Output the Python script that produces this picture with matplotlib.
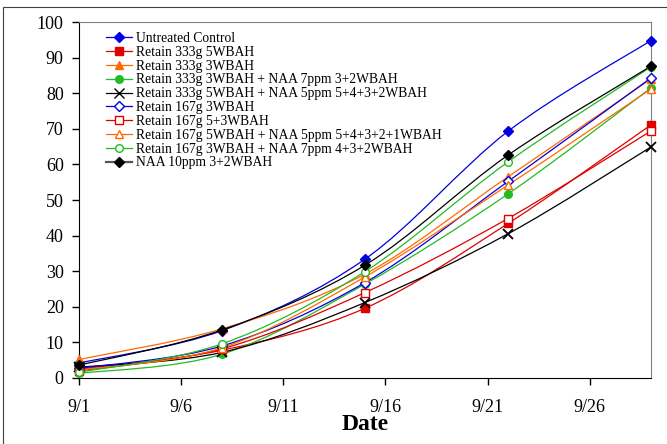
import numpy as np
import matplotlib.pyplot as plt
from matplotlib.path import Path
from matplotlib.patches import PathPatch, Rectangle
from matplotlib.lines import Line2D

# days after 9/1 on which the counts were taken
days = [0, 7, 14, 21, 28]
tick_days = [0, 5, 10, 15, 20, 25]
tick_labels = ['9/1', '9/6', '9/11', '9/16', '9/21', '9/26']

names = ['Untreated Control',
         'Retain 333g 5WBAH',
         'Retain 333g 3WBAH',
         'Retain 333g 3WBAH + NAA 7ppm 3+2WBAH',
         'Retain 333g 5WBAH + NAA 5ppm 5+4+3+2WBAH',
         'Retain 167g 3WBAH',
         'Retain 167g 5+3WBAH',
         'Retain 167g 5WBAH + NAA 5ppm 5+4+3+2+1WBAH',
         'Retain 167g 3WBAH + NAA 7ppm 4+3+2WBAH',
         'NAA 10ppm 3+2WBAH']

untreated = [4.2, 13.3, 33.4, 69.3, 94.8]
r333_5 = [2.5, 7.8, 19.6, 43.4, 71.1]
r333_3 = [5.2, 13.8, 29.2, 56.5, 84.0]
r333_3_naa7 = [1.3, 6.7, 26.4, 51.7, 81.5]
r333_5_naa5 = [3.0, 7.2, 21.2, 40.5, 64.9]
r167_3 = [2.7, 9.0, 26.8, 55.2, 84.3]
r167_53 = [2.0, 8.2, 24.0, 44.8, 69.4]
r167_5_naa5 = [2.2, 8.5, 28.4, 54.2, 81.2]
r167_3_naa7 = [1.6, 9.6, 29.9, 60.7, 87.4]
naa10 = [3.6, 13.5, 31.7, 62.6, 87.6]

series = [untreated, r333_5, r333_3, r333_3_naa7, r333_5_naa5,
          r167_3, r167_53, r167_5_naa5, r167_3_naa7, naa10]

blue, red, orange, green, black = '#0000e0', '#e00000', '#ff6a00', '#22bb22', '#000000'
styles = [  # colour, marker, filled
    (blue, 'D', True), (red, 's', True), (orange, '^', True), (green, 'o', True),
    (black, 'x', True), (blue, 'D', False), (red, 's', False), (orange, '^', False),
    (green, 'o', False), (black, 'D', True)]


def smooth_path(x, y):
    # excel-style smoothed line: bezier segments through the points
    p = np.column_stack([x, y]).astype(float)
    q = np.vstack([p[0], p, p[-1]])
    verts = [p[0]]
    codes = [Path.MOVETO]
    for i in range(len(p) - 1):
        c1 = q[i + 1] + (q[i + 2] - q[i]) / 6
        c2 = q[i + 2] - (q[i + 3] - q[i + 1]) / 6
        verts += [c1, c2, q[i + 2]]
        codes += [Path.CURVE4] * 3
    return Path(verts, codes)


plt.rcParams['font.family'] = 'Liberation Serif'
fig = plt.figure(figsize=(6.67, 4.44), dpi=100)
ax = fig.add_axes([79 / 667, 1 - 378 / 444, 572 / 667, 356 / 444])

handles = []
for vals, name, (col, mk, filled) in zip(series, names, styles):
    ax.add_patch(PathPatch(smooth_path(days, vals), fill=False, edgecolor=col, lw=0.9, zorder=2))
    ms = 5.5 if mk != 'x' else 6.5
    ax.plot(days, vals, linestyle='none', marker=mk, markersize=ms, color=col,
            markerfacecolor=col if filled else 'white', markeredgecolor=col,
            markeredgewidth=1.0 if mk != 'x' else 1.3, zorder=3, clip_on=False)
    handles.append(Line2D([], [], color=col if name != names[-1] else '#555555',
                          lw=0.9 if name != names[-1] else 1.6,
                          marker=mk, markersize=ms,
                          markerfacecolor=col if filled else 'white',
                          markeredgecolor=col))

ax.set_xlim(0, 28)
ax.set_ylim(0, 100)
ax.set_xticks(tick_days)
ax.set_xticklabels(tick_labels)
ax.set_yticks(range(0, 101, 10))
ax.tick_params(direction='out', length=5, width=1, labelsize=13, pad=6)
ax.tick_params(axis='x', pad=10)
for s in ['top', 'right']:
    ax.spines[s].set_color('#808080')
for s in ['left', 'bottom']:
    ax.spines[s].set_color('black')
ax.set_xlabel('Date', fontsize=17, fontweight='bold', labelpad=-1)

ax.legend(handles, names, loc='upper left', bbox_to_anchor=(106 / 667, 1 - 32 / 444),
          bbox_transform=fig.transFigure, frameon=False, fontsize=9.8,
          handlelength=1.9, handletextpad=0.3, labelspacing=0.06, borderpad=0,
          borderaxespad=0)

fig.patches.append(Rectangle((3 / 667, -0.1), 1.0, 1.1 - 7 / 444, transform=fig.transFigure,
                             fill=False, edgecolor='#404040', lw=0.8))

fig.savefig('out.png', dpi=100)
